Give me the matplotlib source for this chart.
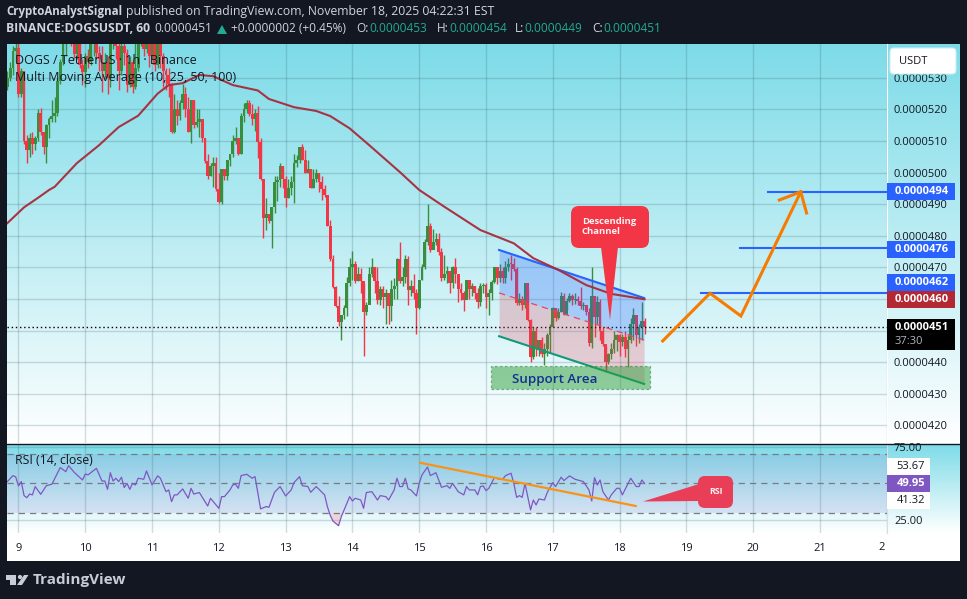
import numpy as np
import matplotlib
matplotlib.use("Agg")
import matplotlib.pyplot as plt
from matplotlib.patches import Rectangle, FancyBboxPatch, Polygon, Circle

plt.rcParams["font.family"] = ["Open Sans", "DejaVu Sans"]

# prices in units of 0.0000001, one candle per hour, hour 0 = day 9 00:00
first_open = 527
closes = [
    530, 533, 538.5, 539.5,
    525, 532, 510, 507, 511, 509, 511, 519, 513, 508, 515, 517, 518, 519, 529, 535, 543, 545, 547, 544, 537.5, 541, 534, 531.8,
    537, 535, 541, 543, 538, 536, 532, 535, 530, 541, 546, 540, 532, 540, 538, 527.6, 535, 527, 533, 541, 543, 539, 541, 537,
    543, 534, 541, 537, 532, 531, 528, 513, 520, 518, 522, 525, 520, 513, 523, 515, 516, 517, 511, 503.8, 499, 502, 503, 494.7,
    490.8, 501, 499, 504, 506, 510, 511, 506, 518, 520, 522, 518.7, 517, 519, 509.8, 498, 485.5, 487, 484.8, 489, 497, 497.5, 502, 498,
    492, 495, 497, 503, 504, 508.2, 504, 500, 501, 495, 498, 500, 497, 494.7, 493, 483, 472.5, 463.9, 457.8, 452.8,
    454.9, 457, 465, 470, 471, 465.7, 467.9, 465.6, 456, 458, 468, 470, 465.7, 459.7, 463, 460.7, 462, 457.8, 463, 464,
    472.8, 465.7, 467, 472.8, 462.8, 464, 462, 457, 466, 470, 478, 483, 475.5, 478, 479, 475, 466.7, 467.9, 469, 465,
    470.2, 467.9, 463, 462, 459.7, 466, 463, 464, 462, 459, 464, 464.3, 460.7, 462,
    465.4, 470, 466.7, 469, 466.5, 470, 471.2, 471, 469.6, 458.6, 460, 458, 464.9, 453.3, 441.5, 450, 444.3, 447, 442.7, 444,
    448.7, 451, 457, 453.9, 456, 460.9, 455, 459.4, 460.9, 459.6, 460, 459.3, 457.8, 458, 456, 446, 460.9, 454.3, 459, 449.9,
    445.6, 440, 442.7, 444, 447, 448.5, 446.5, 448, 444, 447, 452, 454.9, 448.5, 451, 453, 451,
]
highs = [
    532, 535, 540, 542,
    541, 533, 532, 512, 512.5, 513, 511.5, 520, 520.5, 513, 515.5, 517.5, 523, 524, 530, 536, 546, 547, 549, 549, 546, 542, 542, 536,
    538, 539, 542, 547, 545, 540, 540, 538, 537, 544, 548, 547, 541, 543, 542, 539, 537, 536, 542, 545, 546, 544, 546, 543,
    546, 544, 547, 543, 538, 533, 533, 528.5, 525, 523, 523, 528, 527, 524, 523, 523, 520, 520, 517, 511, 506, 503, 505, 505,
    500, 501, 501, 504, 506, 512, 514.5, 511, 519, 522, 523, 523, 521.7, 520, 521, 511, 498, 491.8, 487, 489, 499, 499, 503, 502,
    499, 498, 499, 506, 505.5, 508.2, 509, 507, 504, 501, 501, 501, 500, 499, 496, 493, 485, 473.8, 464, 461,
    455, 458, 467, 473, 475.2, 472, 470, 469.8, 465, 459, 470, 473, 470, 470, 464, 464, 463, 462, 466, 466.5,
    473, 478, 470, 473.9, 473.5, 466, 468, 463, 466, 471, 479, 490, 484, 482, 481, 481, 476, 473.9, 470.5, 469,
    470.5, 473, 468, 465, 462.5, 466, 466, 465, 464, 463.5, 465, 465, 465, 463,
    466, 470, 470, 471, 470, 472, 473, 474, 473, 470, 462, 461, 465, 463, 453.8, 451, 451, 447, 448, 446,
    449.2, 452, 457.5, 457, 457, 462.2, 462, 460.2, 462, 461.5, 462, 461, 463.8, 459, 458, 457, 470, 461, 461, 460,
    451, 445, 443, 446, 450, 449, 449, 449, 450, 448.5, 454, 457, 455, 452, 459, 454,
]
lows = [
    526, 529, 531, 535,
    524, 524, 509, 503, 505, 506, 507, 510, 512, 506, 503, 511, 516, 516, 518, 528, 534, 537, 541, 540, 536, 536, 533, 527.6,
    527, 533, 534, 537, 536, 532, 525.5, 530, 525, 527, 539, 536, 526, 531, 534, 525.5, 527, 525.3, 526.5, 532, 540, 537, 538, 533.5,
    536, 532, 533, 533, 527, 526, 524, 512.5, 512.5, 515, 516.8, 520, 517.5, 513, 509.3, 514, 514.5, 511.4, 509.8, 503, 498, 499, 495.3, 494.3,
    490.3, 490, 497.7, 497.7, 502, 505, 509, 505.5, 506, 516, 519, 517.9, 515, 513.3, 504.5, 497.7, 479.2, 481.8, 484.1, 476.2, 487.3, 491, 495.3, 495,
    489.2, 492, 493, 490.3, 501.7, 503, 504, 500, 500, 495, 495, 497, 494, 491.3, 492.4, 483, 472, 463.5, 457.5, 451.5,
    447, 453.5, 454.7, 464, 466, 465, 465.6, 462, 442, 455, 459, 467, 462, 458.5, 458, 457, 452, 452, 453, 460,
    460, 465, 464, 464.9, 458, 461, 460, 449, 456.8, 466, 469.5, 477, 475, 476.7, 477, 474, 465.6, 466, 465, 462,
    463.6, 465, 459, 459.6, 456.2, 460.7, 460, 461, 460, 457, 457.8, 462, 457, 455,
    459.6, 465, 464.8, 465.4, 465, 465, 469, 466, 469, 458, 458, 456.5, 457, 453, 440, 441, 442, 442, 441.5, 439,
    442, 443, 451, 453, 453.5, 456, 455, 456.5, 459, 458, 458.5, 458, 456.8, 456.5, 455, 445, 444.6, 448, 452, 447,
    445, 436.9, 439.5, 441, 443, 443.4, 442, 445, 441.5, 438.3, 446, 447, 445, 446, 447, 449,
]

ma_hours = [-4, 2, 7, 11, 13, 21, 29, 36, 43, 50, 54, 59, 65, 70, 77, 86, 90, 99, 107, 112, 119, 126, 137, 144, 153, 166, 178, 185, 194, 204, 213, 225]
ma_values = [484, 489, 492, 494.5, 495.5, 503, 508.7, 514.4, 518, 525, 527.7, 528.3, 530.9, 530.5, 527.7, 526, 523.3, 520.7, 519.5, 517.9, 514, 508.7, 500.2, 494.5, 489.2, 481.8, 477.6, 472.9, 469.2, 464.4, 461.6, 459.9]

rsi_hours = [
    -4, -2, -1, 0, 1, 2, 3, 4, 5, 6, 8, 10, 12, 14, 15, 17, 18, 20, 23, 24, 25, 28, 30, 31, 32, 33, 34, 35, 36, 37, 38, 39, 40, 41, 42, 43,
    45, 46, 48, 50, 51, 53, 54, 55, 56, 57, 59, 61, 62, 63, 65, 68, 69, 72, 73, 74, 76, 77, 78, 79, 80, 82, 84, 85, 87, 89, 90, 92, 94, 96,
    98, 99, 101, 102, 104, 105, 107, 110, 111, 112, 113, 115, 116, 118, 119, 120, 121, 123, 124, 125, 127, 129, 130, 132, 133, 135, 136,
    137, 138, 139, 140, 141, 143, 144, 145, 147, 148, 150, 152, 154, 155, 156, 158, 160, 161, 162, 164, 165, 166, 167, 168, 169, 171, 173,
    174, 175, 177, 178, 179, 180, 181, 182, 184, 185, 186, 187, 189, 190, 192, 193, 195, 196, 198, 200, 203, 205, 206, 207, 208, 209, 210,
    212, 213, 215, 216, 217, 220, 222, 223, 224, 225,
]
rsi_values = [
    51.3, 55.4, 54.5, 48.3, 51.3, 41.7, 40.3, 42.8, 42.2, 47.9, 42.6, 48.5, 49.5, 57, 60.9, 58.1, 62.2, 57.7, 52.4, 56.5, 55.9, 60.4, 51.7, 51.7, 46, 57.4, 51.7, 53.6, 51.3, 54.3, 47.2, 50.1, 46, 50.1, 49, 53.6,
    52.9, 58.6, 49, 55.2, 53.6, 44.4, 45.6, 37.6, 42.2, 42.2, 46.3, 39.9, 46.7, 42.8, 43.8, 34.6, 39.9, 33, 41, 41, 45.6, 49, 49.5, 46.7, 55.4, 56.3, 53.6, 54.7, 32.6, 34.2, 33.7, 44, 47.9, 41.5,
    45.6, 50.6, 54.7, 48.5, 47.9, 44, 47.9, 42.2, 34.2, 28.3, 24.3, 21.1, 27.3, 36.4, 41, 38, 39.9, 38.7, 33, 43.8, 44.4, 38.7, 41.7, 41, 38.7, 45.6, 53.6,
    47.9, 47.9, 53.6, 46.3, 45.6, 41.5, 50.1, 55.9, 61.3, 55.4, 57.4, 47.4, 48.5, 46.7, 50.1, 44.4, 42.2, 47.9, 45.6, 45.6, 42.2, 47.9, 48.3, 45.1, 46.7, 54, 52.9,
    52.9, 55.4, 57, 50.1, 40.5, 41.7, 40.5, 50.1, 31.9, 38.7, 35.3, 39.4, 38.7, 43.8, 50.6, 47.9, 54.3, 52, 55.2, 52.9, 51.3, 45.6, 38, 54, 49, 52.4, 44.4,
    38.7, 42.2, 46.7, 46.7, 42.2, 53.6, 47.9, 47.9, 52.4, 49.95,
]

price_ticks = [420, 430, 440, 450, 460, 470, 480, 490, 500, 510, 520, 530]
hidden_ticks = [450, 460]  # sit behind the price tags
day_labels = ["9", "10", "11", "12", "13", "14", "15", "16", "17", "18", "19", "20", "21", ""]

# drawings on the chart, hour / price pairs
channel_hours = [172.7, 224.8]
channel_top = [475.5, 460.3]
channel_mid = [461.9, 447]
channel_bottom = [448.2, 433.1]
support_hours = [169.8, 226.9]
support_prices = [431.5, 438.8]
target_levels = [494, 476, 462]
target_starts = [269.3, 259.3, 245.2]
path_hours = [231.5, 248.5, 259.6, 281.1]
path_prices = [446.7, 461.8, 454.6, 493.9]
head_hours = [273.4, 281.1, 283.2]
head_prices = [491.3, 493.9, 487.2]
rsi_trend_hours = [144.3, 221.8]
rsi_trend_values = [64.2, 34.6]

GREEN = "#388e3c"
RED = "#f23645"
BLUE = "#2962ff"
ORANGE = "#f57c00"
W, H = 967, 599


def pane(top, bottom, left=7, right=887):
    return [left / W, 1 - bottom / H, (right - left) / W, (bottom - top) / H]


fig = plt.figure(figsize=(W / 100, H / 100), dpi=100, facecolor="#131722")

# backgrounds, drawn in pixels
bg = fig.add_axes([0, 0, 1, 1], zorder=0)
bg.axis("off")
bg.patch.set_visible(False)
bg.add_patch(Rectangle((7, 533), 953, 28, color="white", lw=0))
fade = np.linspace(0, 1, 256).reshape(-1, 1, 1)
top_col = np.array([0.49, 0.86, 0.91]).reshape(1, 1, 3)
bot_col = np.array([1.0, 1.0, 1.0]).reshape(1, 1, 3)
grad = top_col + (bot_col - top_col) * fade
bg.imshow(grad, extent=(7, 960, 444, 44), aspect="auto", zorder=1)
bg.imshow(grad, extent=(7, 960, 533, 444.5), aspect="auto", zorder=1)
bg.set_xlim(0, W)
bg.set_ylim(H, 0)

# main price pane
ax = fig.add_axes(pane(44, 443), zorder=1)
ax.patch.set_visible(False)
ax.set_xlim(-4.13, 312.1)
ax.set_ylim(414.4, 540.7)
for s in ax.spines.values():
    s.set_visible(False)
ax.spines["right"].set_visible(True)
ax.spines["right"].set_color("white")
ax.spines["right"].set_linewidth(0.8)
ax.set_axisbelow(True)
hours = np.arange(-4, 226)
opens = np.array([first_open] + closes[:-1])
closes_arr = np.array(closes)
up = closes_arr >= opens
cols = [GREEN if u else RED for u in up]
ax.vlines(hours, lows, highs, colors=cols, lw=1.0, zorder=2)
ax.bar(hours, np.abs(closes_arr - opens).clip(0.4), bottom=np.minimum(opens, closes_arr), width=1.0, color=cols, lw=0, zorder=2.1)
ax.set_xticks(np.arange(0, 313, 24))
ax.tick_params(axis="x", length=0, labelbottom=False)
ax.yaxis.tick_right()
ax.set_yticks(price_ticks)
ax.set_yticklabels(["" if v in hidden_ticks else f"{v * 1e-7:.7f}" for v in price_ticks], fontsize=8, color="#131722")
ax.tick_params(axis="y", length=0, pad=5)
ax.grid(True, color="#2a5560", alpha=0.2, lw=1.0)

ax.axhline(451, color="black", lw=1.0, dashes=(1, 2), zorder=2.5)
ax.fill_between(channel_hours, channel_mid, channel_top, color=BLUE, alpha=0.27, lw=0, zorder=3)
ax.fill_between(channel_hours, channel_bottom, channel_mid, color="#e5475f", alpha=0.25, lw=0, zorder=3)
ax.plot(channel_hours, channel_top, color=BLUE, lw=1.5, zorder=4)
ax.plot(channel_hours, channel_mid, color="#e5475f", lw=0.9, ls=(0, (5, 4)), zorder=4)
ax.plot(channel_hours, channel_bottom, color="#129a78", lw=1.5, zorder=4)
ax.add_patch(Rectangle((support_hours[0], support_prices[0]), support_hours[1] - support_hours[0],
                       support_prices[1] - support_prices[0], facecolor="#2e9e3a", alpha=0.5, edgecolor="#1f7a2c",
                       lw=0.9, ls=(0, (2, 2)), zorder=4))
ax.plot(ma_hours, ma_values, color="#a82a3a", lw=1.5, alpha=0.95, zorder=4.5)
for level, start in zip(target_levels, target_starts):
    ax.plot([start, 312.1], [level, level], color=BLUE, lw=1.5, zorder=4)
ax.plot(path_hours, path_prices, color=ORANGE, lw=2.2, zorder=5, solid_joinstyle="miter")
ax.plot(head_hours, head_prices, color=ORANGE, lw=2.2, zorder=5, solid_joinstyle="miter")
ax.text(192.8, 434.6, "Support Area", color="#12308f", fontsize=9.6, fontweight="semibold", ha="center", va="center", zorder=6)

# RSI pane
rx = fig.add_axes(pane(444, 533), zorder=1)
rx.patch.set_visible(False)
rx.set_xlim(-4.13, 312.1)
rx.set_ylim(16.1, 77.05)
for s in rx.spines.values():
    s.set_visible(False)
rx.spines["right"].set_visible(True)
rx.spines["right"].set_color("#d8dde2")
rx.spines["right"].set_linewidth(0.8)
rx.set_axisbelow(True)
rx.axhspan(30, 70, color="#7e57c2", alpha=0.13, lw=0, zorder=1)
rx.set_xticks(np.arange(0, 313, 24))
rx.set_xticklabels(day_labels, fontsize=8, color="#131722")
rx.tick_params(axis="x", length=0, pad=7)
rx.yaxis.tick_right()
rx.set_yticks([25, 75])
rx.set_yticklabels(["25.00", "75.00"], fontsize=8, color="#131722")
rx.tick_params(axis="y", length=0, pad=5)
rx.grid(True, color="#2a5560", alpha=0.2, lw=1.0)
for level in [70, 50, 30]:
    rx.axhline(level, color="#787b86", lw=0.9, ls=(0, (5, 4)), zorder=2)
rsi_arr = np.array(rsi_values)
rsi_x = np.array(rsi_hours)
rx.fill_between(rsi_x, rsi_arr, 30, where=rsi_arr < 30, interpolate=True, color="#f23645", alpha=0.18, lw=0, zorder=2)
rx.plot(rsi_x, rsi_arr, color="#7e57c2", lw=0.9, zorder=3)
rx.plot(rsi_trend_hours, rsi_trend_values, color="#f7931a", lw=1.6, zorder=4)

# texts, tags and callouts, placed in pixels
ov = fig.add_axes([0, 0, 1, 1], zorder=5)
ov.set_xlim(0, W)
ov.set_ylim(H, 0)
ov.axis("off")
ov.patch.set_visible(False)

# separator between the price pane and the RSI pane
ov.plot([7, 960], [444, 444], color="#131722", lw=1.0)

GREY = "#d1d4dc"
TEAL = "#22ab94"
ov.text(6, 12, "CryptoAnalystSignal", color=GREY, fontsize=8.3, fontweight="bold", va="center")
ov.text(126, 12, "published on TradingView.com, November 18, 2025 04:22:31 EST", color=GREY, fontsize=8.8, va="center")
ov.text(6, 29, "BINANCE:DOGSUSDT, 60", color=GREY, fontsize=8.7, fontweight="bold", va="center")
ov.text(154, 29, "0.0000451", color=GREY, fontsize=8.6, va="center")
ov.add_patch(Polygon([(217, 34), (227, 34), (222, 25)], color=TEAL, lw=0))
ov.text(231, 29, "+0.0000002 (+0.45%)", color=GREY, fontsize=8.6, va="center")
for x, name, gap, val in [(356, "O:", 13, "0.0000453"), (437, "H:", 12, "0.0000454"), (515, "L:", 9, "0.0000449"), (592, "C:", 11, "0.0000451")]:
    ov.text(x, 29, name, color=GREY, fontsize=8.6, va="center")
    ov.text(x + gap, 29, val, color=TEAL, fontsize=8.6, va="center")

ov.text(15, 60, "DOGS / TetherUS · 1h · Binance", color="#131722", fontsize=9, va="center")
ov.text(15, 77, "Multi Moving Average (10, 25, 50, 100)", color="#131722", fontsize=9, va="center")
ov.text(15, 461, "RSI (14, close)", color="#131722", fontsize=8.8, va="center")
ov.text(882, 548, "2", color="#131722", fontsize=8, ha="center", va="center")

# the day-22 label sits cut off at the pane edge; USDT button covers the 530 tick
ov.add_patch(FancyBboxPatch((890, 48), 66, 26, boxstyle="round,pad=0,rounding_size=4", fc="white", ec="#cfeef2", lw=0.8))
ov.text(899, 61, "USDT", color="#131722", fontsize=8, va="center")

for top, bottom, color, label in [(183, 200, BLUE, "0.0000494"), (241, 258, BLUE, "0.0000476"),
                                  (274, 291, BLUE, "0.0000462"), (291, 308, "#b22833", "0.0000460")]:
    ov.add_patch(Rectangle((887, top), 68, bottom - top, color=color, lw=0))
    ov.text(895, (top + bottom) / 2, label, color="white", fontsize=8, fontweight="bold", va="center")
ov.add_patch(Rectangle((887, 319), 68, 31, color="black", lw=0))
ov.text(895, 327, "0.0000451", color="white", fontsize=8, fontweight="bold", va="center")
ov.text(895, 342, "37:30", color="#b2b5be", fontsize=8, va="center")

ov.add_patch(Rectangle((887, 458), 43, 17, color="white", lw=0))
ov.text(925, 466.5, "53.67", color="#131722", fontsize=8, ha="right", va="center")
ov.add_patch(Rectangle((887, 475), 43, 17, color="#7e57c2", lw=0))
ov.text(925, 483.5, "49.95", color="white", fontsize=8, fontweight="bold", ha="right", va="center")
ov.add_patch(Rectangle((887, 492), 43, 17, color="white", lw=0))
ov.text(925, 500.5, "41.32", color="#131722", fontsize=8, ha="right", va="center")

ov.add_patch(FancyBboxPatch((571, 206), 78, 42, boxstyle="round,pad=0,rounding_size=8", fc=RED, ec="none"))
ov.add_patch(Polygon([(601, 247), (618, 247), (610, 320)], color=RED, lw=0))
ov.text(582, 222, "Descending", color="#fff2f3", fontsize=6.8, fontweight="bold", va="center")
ov.text(582, 231.5, "Channel", color="#fff2f3", fontsize=6.8, fontweight="bold", va="center")

ov.add_patch(FancyBboxPatch((698, 476), 35, 32, boxstyle="round,pad=0,rounding_size=7", fc="#e83e58", ec="none"))
ov.add_patch(Polygon([(699, 484), (699, 501), (643, 501.5)], color="#e83e58", lw=0))
ov.text(716, 491.5, "RSI", color="#fff2f3", fontsize=6.4, fontweight="bold", ha="center", va="center")

# TradingView logo
LOGO = "#c8ccd4"
ov.add_patch(Polygon([(6, 575), (16, 575), (16, 585), (10, 585), (10, 579.5), (6, 579.5)], color=LOGO, lw=0))
ov.add_patch(Circle((20, 577), 2.1, color=LOGO, lw=0))
ov.add_patch(Polygon([(24, 575), (28.5, 575), (22, 585), (17, 585)], color=LOGO, lw=0))
ov.text(33, 580, "TradingView", color=LOGO, fontsize=11, fontweight="bold", va="center")

fig.savefig("out.png", dpi=100, facecolor=fig.get_facecolor())
